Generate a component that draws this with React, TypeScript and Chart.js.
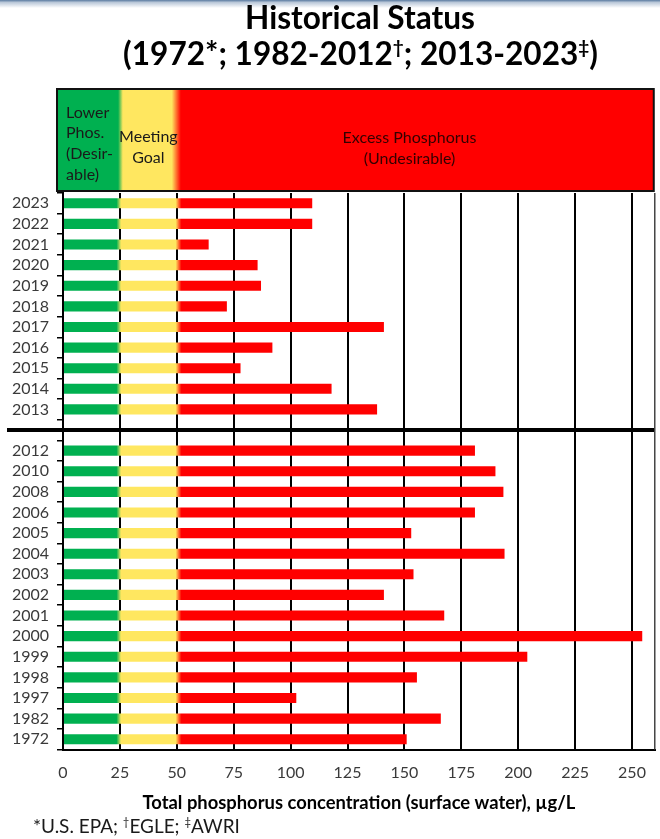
import { useEffect, useRef } from 'react';
import { Chart, registerables } from 'chart.js';

Chart.register(...registerables);

// ---------- data ----------
const upperYears = ['2023', '2022', '2021', '2020', '2019', '2018', '2017', '2016', '2015', '2014', '2013'];
const upperValues = [109.5, 109.5, 64, 85.5, 87, 72, 141, 92, 78, 118, 138];
const lowerYears = ['2012', '2010', '2008', '2006', '2005', '2004', '2003', '2002', '2001', '2000', '1999', '1998', '1997', '1982', '1972'];
const lowerValues = [181, 190, 193.5, 181, 153, 194, 154, 141, 167.5, 254.5, 204, 155.5, 102.5, 166, 151];
const xTickValues = [0, 25, 50, 75, 100, 125, 150, 175, 200, 225, 250];
const goalLow = 25;
const goalHigh = 50;
const xMax = 260;

const titleLine1 = 'Historical Status';
const titleLine2: [string, boolean][] = [['(1972*; 1982-2012', false], ['†', true], ['; 2013-2023', false], ['‡', true], [')', false]];
const axisTitle = 'Total phosphorus concentration (surface water), µg/L';
const footnote: [string, boolean][] = [['*U.S. EPA; ', false], ['†', true], ['EGLE; ', false], ['‡', true], ['AWRI', false]];
const lowerZoneLines = ['Lower', 'Phos.', '(Desir-', 'able)'];
const goalZoneLines = ['Meeting', 'Goal'];
const excessZoneLines = ['Excess Phosphorus', '(Undesirable)'];

const labels = [...upperYears, '', ...lowerYears];
const values: (number | null)[] = [...upperValues, null, ...lowerValues];
const separatorIndex = upperYears.length;

const FAMILY = 'Lato, "Open Sans", sans-serif';
const GREEN = '#00B050';
const YELLOW = '#FFE760';
const RED = '#FF0000';

function richWidth(ctx: CanvasRenderingContext2D, parts: [string, boolean][], size: number, weight: string) {
  let w = 0;
  for (const [t, sup] of parts) {
    ctx.font = `${weight} ${sup ? size * 0.6 : size}px ${FAMILY}`;
    w += ctx.measureText(t).width;
  }
  return w;
}

function fitRich(ctx: CanvasRenderingContext2D, parts: [string, boolean][], weight: string, target: number) {
  const w = richWidth(ctx, parts, 100, weight);
  return (100 * target) / w;
}

function drawRich(
  ctx: CanvasRenderingContext2D,
  parts: [string, boolean][],
  x: number,
  baseline: number,
  size: number,
  weight: string,
  color: string,
  align: 'center' | 'left'
) {
  const total = richWidth(ctx, parts, size, weight);
  let cx = align === 'center' ? x - total / 2 : x;
  ctx.fillStyle = color;
  ctx.textAlign = 'left';
  ctx.textBaseline = 'alphabetic';
  for (const [t, sup] of parts) {
    const s = sup ? size * 0.6 : size;
    ctx.font = `${weight} ${s}px ${FAMILY}`;
    ctx.fillText(t, cx, sup ? baseline - size * 0.36 : baseline);
    cx += ctx.measureText(t).width;
  }
}

const decorPlugin = {
  id: 'decor',
  beforeDraw(chart: any) {
    const { ctx, width } = chart;
    ctx.save();
    ctx.fillStyle = '#ffffff';
    ctx.fillRect(0, 0, width, chart.height);
    const g = ctx.createLinearGradient(0, 0, 0, 8);
    g.addColorStop(0, '#5a7aa0');
    g.addColorStop(0.3, '#b9c7d8');
    g.addColorStop(1, '#ffffff');
    ctx.fillStyle = g;
    ctx.fillRect(0, 0, width, 8);
    ctx.restore();
  },
  afterDraw(chart: any) {
    const { ctx, chartArea, scales } = chart;
    const x = scales.x;
    const y = scales.y;
    ctx.save();

    // title
    const t1 = fitRich(ctx, [[titleLine1, false]], 'bold', 230);
    drawRich(ctx, [[titleLine1, false]], 360, 28.5, t1, 'bold', '#000', 'center');
    const t2 = fitRich(ctx, titleLine2, 'bold', 475);
    drawRich(ctx, titleLine2, 360.5, 65, t2, 'bold', '#000', 'center');

    // header zone band
    const bx0 = chartArea.left - 6;
    const bx1 = chartArea.right - 1;
    const by0 = 89;
    const by1 = chartArea.top - 2;
    const bw = bx1 - bx0;
    const f = (v: number) => (x.getPixelForValue(v) - bx0) / bw;
    const hg = ctx.createLinearGradient(bx0, 0, bx1, 0);
    hg.addColorStop(0, GREEN);
    hg.addColorStop(f(goalLow - 0.8), GREEN);
    hg.addColorStop(f(goalLow + 1.3), YELLOW);
    hg.addColorStop(f(goalHigh - 2.2), YELLOW);
    hg.addColorStop(f(goalHigh + 1.8), RED);
    hg.addColorStop(1, RED);
    ctx.fillStyle = hg;
    ctx.fillRect(bx0, by0, bw, by1 - by0);
    ctx.strokeStyle = '#111';
    ctx.lineWidth = 2;
    ctx.strokeRect(bx0, by0, bw, by1 - by0);

    ctx.font = `16px ${FAMILY}`;
    ctx.textBaseline = 'alphabetic';
    ctx.fillStyle = '#1a1a1a';
    ctx.textAlign = 'left';
    lowerZoneLines.forEach((l, i) => ctx.fillText(l, chartArea.left + 3, 117.5 + i * 20.8));
    ctx.textAlign = 'center';
    const gx = (x.getPixelForValue(goalLow) + x.getPixelForValue(goalHigh)) / 2;
    goalZoneLines.forEach((l, i) => ctx.fillText(l, gx, 141.7 + i * 20.8));
    ctx.fillStyle = '#330000';
    excessZoneLines.forEach((l, i) => ctx.fillText(l, 409.5, 143.3 + i * 20.5));

    // separator between data sources
    const sy = y.getPixelForValue(separatorIndex);
    ctx.strokeStyle = '#000';
    ctx.lineWidth = 4;
    ctx.beginPath();
    ctx.moveTo(7, sy);
    ctx.lineTo(chartArea.right, sy);
    ctx.stroke();

    // right border of plot
    ctx.strokeStyle = '#444';
    ctx.lineWidth = 1.5;
    ctx.beginPath();
    ctx.moveTo(chartArea.right, chartArea.top);
    ctx.lineTo(chartArea.right, chartArea.bottom);
    ctx.stroke();

    // axis title
    const at = fitRich(ctx, [[axisTitle, false]], 'bold', 433);
    drawRich(ctx, [[axisTitle, false]], (chartArea.left + chartArea.right) / 2, 808.5, at, 'bold', '#000', 'center');

    // footnote
    const fs = fitRich(ctx, footnote, 'normal', 207);
    drawRich(ctx, footnote, 33, 833, fs, 'normal', '#1a1a1a', 'left');

    ctx.restore();
  },
};

let gradCache: { key: string; grad: CanvasGradient } | null = null;
function barGradient(c: any) {
  const chart = c.chart;
  const xs = chart.scales?.x;
  if (!xs || !chart.chartArea) return RED;
  const x0 = xs.getPixelForValue(0);
  const x1 = xs.getPixelForValue(xMax);
  const key = `${x0}-${x1}`;
  if (gradCache && gradCache.key === key) return gradCache.grad;
  const g = chart.ctx.createLinearGradient(x0, 0, x1, 0);
  const p = (v: number) => v / xMax;
  g.addColorStop(0, GREEN);
  g.addColorStop(p(goalLow - 1.5), GREEN);
  g.addColorStop(p(goalLow + 0.5), YELLOW);
  g.addColorStop(p(goalHigh - 0.5), YELLOW);
  g.addColorStop(p(goalHigh + 2), RED);
  g.addColorStop(1, RED);
  gradCache = { key, grad: g };
  return g;
}

export default function App() {
  const ref = useRef<HTMLCanvasElement | null>(null);
  useEffect(() => {
    document.body.style.margin = '0';
    const canvas = ref.current!;
    const chart = new Chart(canvas, {
      type: 'bar',
      data: {
        labels,
        datasets: [
          {
            data: values as any,
            backgroundColor: barGradient as any,
            borderWidth: 0,
            categoryPercentage: 1,
            barPercentage: 0.49,
          },
        ],
      },
      options: {
        indexAxis: 'y',
        responsive: false,
        animation: false,
        devicePixelRatio: 1,
        layout: { padding: { top: 193, right: 2, bottom: 0, left: 0 } },
        plugins: {
          legend: { display: false },
          tooltip: { enabled: false },
          title: { display: false },
        },
        scales: {
          x: {
            type: 'linear',
            min: 0,
            max: xMax,
            position: 'bottom',
            afterBuildTicks: (s: any) => {
              s.ticks = xTickValues.map((v) => ({ value: v }));
            },
            ticks: { font: { family: FAMILY, size: 16 }, color: '#3a3a3a', padding: 14, maxRotation: 0 },
            grid: { color: '#000', lineWidth: 2, drawTicks: false },
            border: { color: '#000', width: 2 },
            afterFit: (s: any) => {
              s.height = 89.5;
            },
          },
          y: {
            type: 'category',
            grid: { offset: true, drawOnChartArea: false, drawTicks: true, tickLength: 6, color: '#000', lineWidth: 1.5 },
            border: { color: '#000', width: 2 },
            ticks: { font: { family: FAMILY, size: 16 }, color: '#3a3a3a', padding: 8, autoSkip: false },
            afterFit: (s: any) => {
              s.width = 63;
            },
          },
        },
      } as any,
      plugins: [decorPlugin],
    });
    return () => chart.destroy();
  }, []);
  return <canvas ref={ref} width={660} height={839} style={{ display: 'block' }} />;
}
